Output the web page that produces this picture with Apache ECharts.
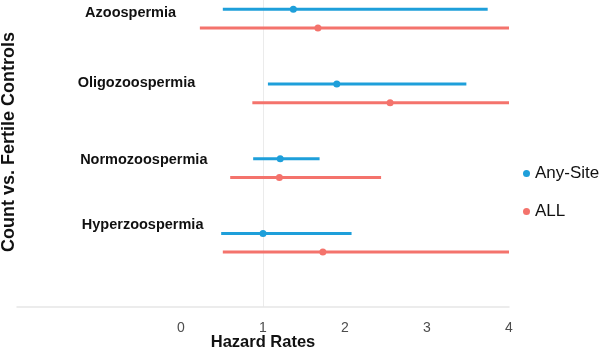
<!DOCTYPE html>
<html>
<head>
<meta charset="utf-8">
<script src="https://cdn.jsdelivr.net/npm/echarts@6/dist/echarts.min.js"></script>
<style>
  html, body { margin: 0; padding: 0; background: #fff; }
  #main { width: 600px; height: 356px; }
</style>
</head>
<body>
<div id="main"></div>
<script>
// groups from bottom to top
var groups = ['Hyperzoospermia', 'Normozoospermia', 'Oligozoospermia', 'Azoospermia'];
var groupLabelX = [-1.21, -1.23, -1.26, -1.17];
var groupLabelY = [1.24, 2.11, 3.14, 4.08];

// Any-Site estimates + intervals
var anyLow = [0.49, 0.88, 1.06, 0.51];
var anyEst = [1.0, 1.21, 1.9, 1.37];
var anyHigh = [2.08, 1.69, 3.48, 3.74];

// ALL estimates + intervals
var allLow = [0.51, 0.6, 0.87, 0.23];
var allEst = [1.73, 1.2, 2.55, 1.67];
var allHigh = [4.0, 2.44, 4.0, 4.0];

var xTicks = [0, 1, 2, 3, 4];

var blue = '#1E9FDA';
var red = '#F4736C';

function rows(lo, est, hi, off) {
  return groups.map(function (g, i) { return [lo[i], hi[i], est[i], i + 1 + off]; });
}

function intervalItem(color) {
  return function (params, api) {
    var y = api.value(3);
    var a = api.coord([api.value(0), y]);
    var b = api.coord([api.value(1), y]);
    return {
      type: 'line',
      shape: { x1: a[0], y1: a[1], x2: b[0], y2: b[1] },
      style: { stroke: color, lineWidth: 3 }
    };
  };
}

var anyRows = rows(anyLow, anyEst, anyHigh, 0.125);
var allRows = rows(allLow, allEst, allHigh, -0.125);

var myChart = echarts.init(document.getElementById('main'));
var option = {
  animation: false,
  textStyle: { fontFamily: 'Liberation Sans, Arial, sans-serif' },
  grid: { left: 17, right: 91, top: 0, height: 307, containLabel: false, outerBoundsMode: 'none' },
  graphic: [
    {
      type: 'text',
      x: 9,
      y: 142,
      rotation: Math.PI / 2,
      style: {
        text: 'Count vs. Fertile Controls',
        fontSize: 18,
        fontWeight: 'bold',
        fontFamily: 'Liberation Sans, Arial, sans-serif',
        fill: '#111',
        align: 'center',
        verticalAlign: 'middle'
      }
    }
  ],
  legend: {
    orient: 'vertical',
    left: 518,
    top: 160,
    itemWidth: 7,
    itemHeight: 7,
    itemGap: 21,
    textStyle: { fontSize: 17, color: '#111' },
    data: [
      { name: 'Any-Site', icon: 'circle' },
      { name: 'ALL', icon: 'circle' }
    ]
  },
  xAxis: {
    type: 'value',
    min: -2,
    max: 4,
    interval: 1,
    name: 'Hazard Rates',
    nameLocation: 'middle',
    nameGap: 27,
    nameMoveOverlap: false,
    nameTextStyle: { fontSize: 16.5, fontWeight: 'bold', color: '#111' },
    axisLine: { show: true, lineStyle: { color: '#e6e6e6', width: 1.5 } },
    axisTick: { show: false },
    splitLine: { show: false },
    axisLabel: {
      fontSize: 14,
      color: '#4d4d4d',
      margin: 14,
      formatter: function (v) { return xTicks.indexOf(v) >= 0 ? String(v) : ''; }
    }
  },
  yAxis: {
    type: 'value',
    min: 0.14,
    max: 4.25,
    axisLine: { show: false },
    axisTick: { show: false },
    axisLabel: { show: false },
    splitLine: { show: false }
  },
  series: [
    {
      name: 'ref',
      type: 'custom',
      silent: true,
      z: 0,
      data: [],
      renderItem: function () { return null; },
      markLine: {
        silent: true,
        symbol: 'none',
        z: 0,
        label: { show: false },
        lineStyle: { color: '#ebebeb', width: 1, type: 'solid' },
        data: [{ xAxis: 1 }]
      }
    },
    {
      name: 'labels',
      type: 'scatter',
      silent: true,
      symbolSize: 0,
      itemStyle: { opacity: 1 },
      data: groups.map(function (g, i) { return { value: [groupLabelX[i], groupLabelY[i]], name: g }; }),
      label: {
        show: true,
        position: 'right',
        distance: 0,
        formatter: '{b}',
        fontSize: 14.5,
        fontWeight: 'bold',
        color: '#111'
      }
    },
    {
      name: 'Any-Site',
      type: 'custom',
      renderItem: intervalItem(blue),
      encode: { x: [0, 1], y: 3 },
      data: anyRows,
      itemStyle: { color: blue },
      z: 3
    },
    {
      name: 'ALL',
      type: 'custom',
      renderItem: intervalItem(red),
      encode: { x: [0, 1], y: 3 },
      data: allRows,
      itemStyle: { color: red },
      z: 3
    },
    {
      name: 'Any-Site',
      type: 'scatter',
      symbolSize: 7,
      itemStyle: { color: blue, opacity: 1 },
      data: anyRows.map(function (r) { return [r[2], r[3]]; }),
      z: 4
    },
    {
      name: 'ALL',
      type: 'scatter',
      symbolSize: 7,
      itemStyle: { color: red, opacity: 1 },
      data: allRows.map(function (r) { return [r[2], r[3]]; }),
      z: 4
    }
  ]
};
myChart.setOption(option);
window.addEventListener('resize', function () { myChart.resize(); });
</script>
</body>
</html>
